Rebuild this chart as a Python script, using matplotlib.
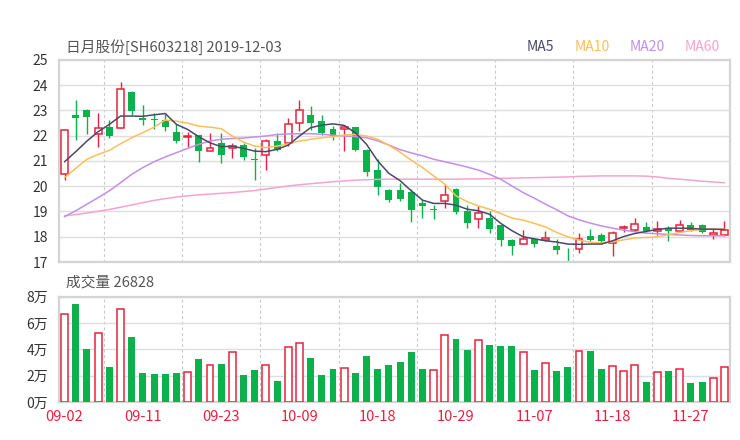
import matplotlib
matplotlib.use("Agg")
import matplotlib.pyplot as plt
import numpy as np

plt.rcParams['font.family'] = ['Noto Sans CJK SC', 'DejaVu Sans']

# ========== 数据 ==========
TITLE = "日月股份[SH603218] 2019-12-03"
VOL_TITLE = "成交量 26828"

x_labels = ["09-02", "09-11", "09-23", "10-09", "10-18", "10-29", "11-07", "11-18", "11-27"]
x_label_idx = [0, 7, 14, 21, 28, 35, 42, 49, 56]

opens = [20.49, 22.84, 23.03, 22.07, 22.36, 22.29, 23.74, 22.71, 22.67, 22.62,
         22.16, 21.97, 22.01, 21.41, 21.72, 21.50, 21.63, 21.07, 21.25, 21.79,
         21.72, 22.51, 22.83, 22.57, 22.28, 22.28, 22.33, 21.45, 20.63, 19.87,
         19.84, 19.76, 19.32, 19.10, 19.43, 19.91, 19.03, 18.72, 18.76, 18.46,
         17.87, 17.72, 17.93, 17.87, 17.63, 17.45, 17.51, 18.03, 18.05, 17.75,
         18.33, 18.26, 18.37, 18.21, 18.36, 18.21, 18.47, 18.47, 18.07, 18.07]
highs = [22.25, 23.43, 23.05, 22.91, 22.63, 24.13, 23.78, 23.20, 22.91, 22.87,
         22.45, 22.16, 22.01, 22.10, 22.12, 21.72, 21.72, 21.50, 21.87, 22.12,
         22.71, 23.43, 23.16, 22.84, 22.38, 22.42, 22.36, 21.47, 21.09, 19.91,
         20.11, 19.91, 19.45, 19.25, 20.08, 19.95, 19.26, 19.20, 19.03, 18.46,
         17.92, 18.26, 17.97, 18.24, 17.93, 17.55, 18.14, 18.30, 18.16, 18.24,
         18.47, 18.74, 18.57, 18.63, 18.43, 18.68, 18.59, 18.50, 18.29, 18.61]
lows = [20.24, 21.84, 22.08, 21.57, 21.90, 22.29, 22.84, 22.42, 22.28, 22.18,
        21.71, 21.57, 20.97, 21.41, 20.91, 21.13, 21.05, 20.25, 20.64, 21.39,
        21.59, 22.18, 22.21, 22.01, 21.82, 21.39, 21.38, 20.41, 19.64, 19.37,
        19.42, 18.57, 18.74, 18.72, 19.14, 18.89, 18.34, 18.34, 18.13, 17.64,
        17.28, 17.71, 17.58, 17.84, 17.32, 17.05, 17.34, 17.82, 17.75, 17.25,
        18.17, 18.24, 18.17, 18.08, 17.84, 18.17, 18.21, 18.14, 17.93, 18.04]
closes = [22.22, 22.70, 22.74, 22.32, 21.99, 23.87, 22.97, 22.61, 22.62, 22.34,
          21.80, 22.00, 21.39, 21.50, 21.22, 21.58, 21.16, 21.04, 21.79, 21.45,
          22.47, 23.03, 22.51, 22.09, 21.99, 22.36, 21.45, 20.58, 19.97, 19.45,
          19.49, 19.05, 19.21, 19.07, 19.67, 18.97, 18.54, 18.95, 18.30, 17.86,
          17.63, 17.92, 17.71, 17.97, 17.47, 17.42, 17.91, 17.87, 17.84, 18.13,
          18.39, 18.50, 18.24, 18.30, 18.24, 18.47, 18.28, 18.20, 18.16, 18.26]

ma5 = [20.97, 21.37, 21.79, 22.16, 22.45, 22.78, 22.78, 22.77, 22.83, 22.88,
       22.45, 22.25, 21.96, 21.72, 21.57, 21.58, 21.50, 21.39, 21.37, 21.46,
       21.63, 21.99, 22.32, 22.42, 22.47, 22.41, 22.12, 21.66, 21.00, 20.51,
       20.22, 19.82, 19.45, 19.32, 19.32, 19.25, 19.09, 19.03, 18.89, 18.53,
       18.24, 18.00, 17.92, 17.84, 17.79, 17.71, 17.70, 17.71, 17.71, 17.84,
       18.01, 18.13, 18.21, 18.29, 18.34, 18.34, 18.33, 18.30, 18.30, 18.29]
ma10 = [20.34, 20.71, 21.07, 21.26, 21.42, 21.68, 21.92, 22.12, 22.34, 22.62,
        22.58, 22.50, 22.38, 22.34, 22.28, 21.99, 21.75, 21.59, 21.53, 21.59,
        21.68, 21.79, 21.86, 21.92, 21.96, 22.03, 22.05, 21.99, 21.86, 21.62,
        21.35, 21.03, 20.74, 20.41, 20.08, 19.62, 19.39, 19.22, 19.09, 18.92,
        18.74, 18.66, 18.53, 18.39, 18.17, 18.00, 17.87, 17.78, 17.75, 17.80,
        17.88, 17.95, 17.97, 18.00, 18.08, 18.17, 18.24, 18.29, 18.30, 18.30]
ma20 = [18.80, 19.03, 19.29, 19.55, 19.82, 20.14, 20.47, 20.74, 20.97, 21.16,
        21.33, 21.50, 21.66, 21.79, 21.86, 21.89, 21.91, 21.95, 21.99, 22.05,
        22.07, 22.08, 22.08, 22.06, 22.02, 21.99, 21.97, 21.92, 21.80, 21.63,
        21.45, 21.32, 21.21, 21.07, 20.97, 20.87, 20.76, 20.64, 20.47, 20.28,
        20.01, 19.75, 19.53, 19.29, 19.07, 18.83, 18.67, 18.54, 18.43, 18.34,
        18.26, 18.20, 18.14, 18.12, 18.09, 18.07, 18.05, 18.04, 18.04, 18.04]
ma60 = [18.83, 18.88, 18.94, 19.01, 19.08, 19.17, 19.26, 19.35, 19.44, 19.51,
        19.57, 19.62, 19.66, 19.69, 19.72, 19.75, 19.79, 19.83, 19.89, 19.95,
        20.01, 20.06, 20.10, 20.14, 20.18, 20.21, 20.24, 20.26, 20.27, 20.28,
        20.28, 20.28, 20.28, 20.28, 20.28, 20.28, 20.29, 20.29, 20.30, 20.31,
        20.32, 20.33, 20.34, 20.35, 20.36, 20.37, 20.39, 20.40, 20.41, 20.41,
        20.41, 20.41, 20.40, 20.37, 20.31, 20.28, 20.24, 20.20, 20.17, 20.14]

# 成交量 (万)
volumes = [6.66, 7.42, 4.05, 5.22, 2.66, 7.04, 4.96, 2.18, 2.13, 2.15,
           2.18, 2.25, 3.24, 2.78, 2.89, 3.77, 2.03, 2.43, 2.78, 1.60,
           4.15, 4.48, 3.37, 2.05, 2.53, 2.61, 2.20, 3.52, 2.48, 2.81,
           3.06, 3.80, 2.51, 2.43, 5.11, 4.76, 3.95, 4.68, 4.35, 4.23,
           4.23, 3.77, 2.43, 2.99, 2.35, 2.68, 3.87, 3.87, 2.51, 2.76,
           2.33, 2.84, 1.52, 2.25, 2.35, 2.51, 1.44, 1.52, 1.80, 2.68]
# 成交量柱颜色: r=涨 g=跌
vol_dir = "rggrgrgggg" "grgrgrggrg" "rrgggrgggg" "gggrrggrgg" "grgrggrggr" "rrgrgrggrr"

# ========== 样式 ==========
RED = "#e5233e"
GREEN = "#0bb24c"
GRID = "#dedede"
FRAME = "#d4d4d4"
MA_COLORS = {"MA5": "#4b4868", "MA10": "#fbbf5b", "MA20": "#c48ee9", "MA60": "#f7a3cf"}

W, H = 740, 440
fig = plt.figure(figsize=(W / 100, H / 100), dpi=100)
ax = fig.add_axes([59 / W, 1 - 262 / H, 671 / W, 202 / H])
axv = fig.add_axes([59 / W, 1 - 402 / H, 671 / W, 105.5 / H])

n = len(closes)
x = np.arange(n)
BODY_W = 0.62


def style_axis(a):
    for s in a.spines.values():
        s.set_color(FRAME)
        s.set_linewidth(1.6)
    a.tick_params(axis="both", length=0, labelsize=10, colors="#333333", pad=8)
    a.grid(axis="y", color=GRID, linewidth=1.0)
    for k in range(3, n, 7):
        a.axvline(k + 0.5, color="#c8c8c8", linewidth=0.8, linestyle=(0, (2.5, 2.5)), zorder=0)
    a.set_axisbelow(True)
    a.set_xlim(-0.5, n - 0.5)


# ========== K线 ==========
style_axis(ax)
for i in range(n):
    o, h, l, c = opens[i], highs[i], lows[i], closes[i]
    up = c >= o
    col = RED if up else GREEN
    ax.vlines(i, l, h, color=col, linewidth=1.0, zorder=2)
    bottom = min(o, c)
    height = max(abs(c - o), 0.03)
    if up:
        ax.bar(i, height, bottom=bottom, width=BODY_W, facecolor="white",
               edgecolor=col, linewidth=1.1, zorder=3)
    else:
        ax.bar(i, height, bottom=bottom, width=BODY_W, color=col, linewidth=0, zorder=3)

for name, vals in [("MA60", ma60), ("MA20", ma20), ("MA10", ma10), ("MA5", ma5)]:
    ax.plot(x, vals, color=MA_COLORS[name], linewidth=1.1, zorder=4)

ax.set_ylim(17, 25)
ax.set_yticks(range(17, 26))
ax.set_xticks([])

# ========== 成交量 ==========
style_axis(axv)
for i in range(n):
    if vol_dir[i] == "r":
        axv.bar(i, volumes[i], width=BODY_W, facecolor="white", edgecolor=RED,
                linewidth=1.1, zorder=3)
    else:
        axv.bar(i, volumes[i], width=BODY_W, color=GREEN, linewidth=0, zorder=3)
axv.set_ylim(0, 8)
axv.set_yticks([0, 2, 4, 6, 8])
axv.set_yticklabels([f"{v}万" for v in [0, 2, 4, 6, 8]])
axv.set_xticks(x_label_idx)
axv.set_xticklabels(x_labels, color=RED, fontsize=10.5)
axv.tick_params(axis="x", pad=6)

# ========== 文字 ==========
fig.text(66 / W, 1 - 47 / H, TITLE, fontsize=10.6, color="#555555", va="center", ha="left")
fig.text(66 / W, 1 - 283 / H, VOL_TITLE, fontsize=10.6, color="#555555", va="center", ha="left")
for name, cx in [("MA5", 540), ("MA10", 592), ("MA20", 647), ("MA60", 702)]:
    fig.text(cx / W, 1 - 47 / H, name, fontsize=10, color=MA_COLORS[name], va="center", ha="center")

fig.savefig("out.png", dpi=100)
